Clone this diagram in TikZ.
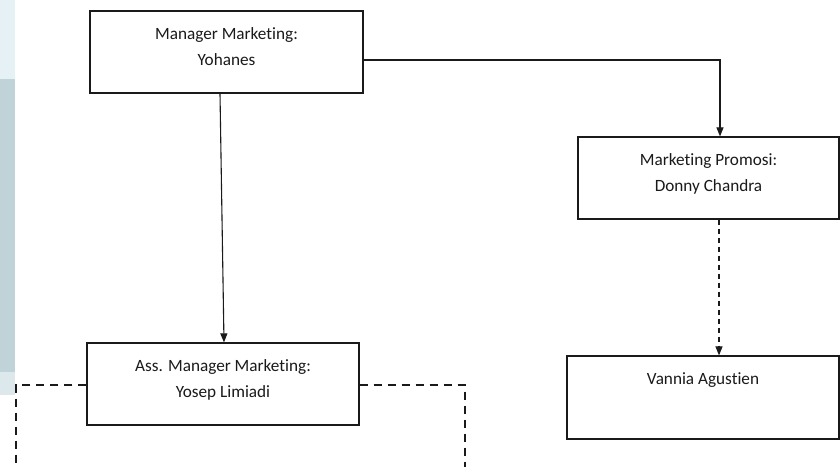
\documentclass[tikz,border=0pt]{standalone}
\usepackage{fontspec}
\setmainfont[Ligatures=NoCommon]{Carlito}
\usetikzlibrary{arrows.meta}
\definecolor{stripA}{HTML}{E6F1F5}
\definecolor{stripB}{HTML}{BFD3D9}
\definecolor{stripC}{HTML}{DCE8EC}
\definecolor{ink}{HTML}{1A1A1A}
\begin{document}
\begin{tikzpicture}[x=1pt,y=1pt,
  box/.style={draw=ink,line width=1.2pt,minimum width=272pt,minimum height=82pt,
    align=center,font=\fontsize{17.2}{26.5}\selectfont,text=ink,inner sep=0pt,
    text depth=10.5pt,fill=white},
  link/.style={draw=ink,line width=1.1pt},
  arr/.style={link,-{Triangle[length=9pt,width=7pt]}},
  dashline/.style={link,dash pattern=on 8pt off 6pt},
  dasharr/.style={link,dash pattern=on 5pt off 4pt,-{Triangle[length=9pt,width=7pt]}}]
\useasboundingbox (0,0) rectangle (840,-466);
\fill[white] (0,0) rectangle (840,-466);
% left background strip
\fill[stripA] (0,0) rectangle (15,-79);
\fill[stripB] (0,-79) rectangle (15,-372);
\fill[stripC] (0,-372) rectangle (15,-395);

\node[box,minimum width=273pt] (b1) at (226.5,-52) {Manager Marketing:\\Yohanes};
\node[box,minimum width=261pt] (b2) at (708.5,-178) {Marketing Promosi:\\Donny Chandra};
\node[box] (b3) at (223,-384) {Ass. Manager Marketing:\\Yosep Limiadi};
\node[box,minimum height=83pt] (b4) at (703,-397.5) {Vannia Agustien\\~};

\coordinate (dl) at (16,-470);
\coordinate (dr) at (465,-470);

\draw[arr] (b1.east |- 0,-60) -| (b2.north -| 720,0);
\draw[arr] (b1.south -| 220,0) -- (b3.north -| 224,0);
\draw[dasharr] (b2.south -| 719,0) -- (b4.north -| 719,0);
\draw[dashline] (b3.west |- 0,-385) -| (dl);
\draw[dashline] (b3.east |- 0,-385) -| (dr);
\end{tikzpicture}
\end{document}
